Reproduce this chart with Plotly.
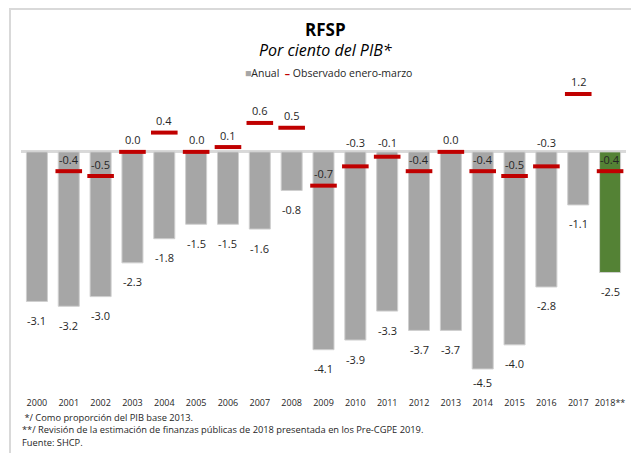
import plotly.graph_objects as go

########
# Data #
########
years = ["2000", "2001", "2002", "2003", "2004", "2005", "2006", "2007", "2008", "2009",
         "2010", "2011", "2012", "2013", "2014", "2015", "2016", "2017", "2018**"]
anual = [-3.1, -3.2, -3.0, -2.3, -1.8, -1.5, -1.5, -1.6, -0.8, -4.1,
         -3.9, -3.3, -3.7, -3.7, -4.5, -4.0, -2.8, -1.1, -2.5]
observado = [None, -0.4, -0.5, 0.0, 0.4, 0.0, 0.1, 0.6, 0.5, -0.7,
             -0.3, -0.1, -0.4, 0.0, -0.4, -0.5, -0.3, 1.2, -0.4]

# labels of the red marks that sit above the zero line
above_axis = ["2010", "2011", "2016"]

GRAY = "#a6a6a6"
GREEN = "#548235"
RED = "#c00000"
TXT = "#262626"
FONT = "Open Sans"

# The page has an 8px body margin, so the figure is 8px smaller than the window
# and positions below are written in window pixels (plot area x 21..626, y 80..396)
PX0, PX1, PY0, PY1 = 21, 626, 80, 396


def px(x):
    return (x - PX0) / (PX1 - PX0)


def py(y):
    return (PY1 - y) / (PY1 - PY0)


bar_colors = [GRAY] * (len(years) - 1) + [GREEN]

fig = go.Figure()

# ----- Annual bars -----
fig.add_trace(go.Bar(
    x=years,
    y=anual,
    marker=dict(color=bar_colors, line=dict(color="#cfcfcf", width=1)),
    name="Anual",
    hoverinfo="x+y",
))

# ----- Observed Jan-Mar marks -----
fig.add_trace(go.Scatter(
    x=years,
    y=observado,
    mode="markers",
    marker=dict(symbol="line-ew", size=19, line=dict(color=RED, width=4)),
    name="Observado enero-marzo",
))

# annotations on a category axis take the category index
annotations = []
for i, v in enumerate(anual):
    # the deepest bar keeps its label a bit closer (room above the year ticks)
    shift = -14 if v < -4.2 else -19
    annotations.append(dict(x=i, y=v, text=f"{v:.1f}", showarrow=False,
                            yshift=shift, font=dict(size=11, color=TXT, family=FONT)))
for i, (yr, v) in enumerate(zip(years, observado)):
    if v is None:
        continue
    if yr in above_axis:
        annotations.append(dict(x=i, y=0, text=f"{v:.1f}", showarrow=False,
                                yshift=9, font=dict(size=11, color=TXT, family=FONT)))
    else:
        annotations.append(dict(x=i, y=v, text=f"{v:.1f}", showarrow=False,
                                yshift=12, font=dict(size=11, color=TXT, family=FONT)))

# ----- Titles and legend -----
annotations += [
    dict(x=px(325), y=py(29), xref="paper", yref="paper", yanchor="middle", text="<b>RFSP</b>",
         showarrow=False, font=dict(size=17, color="#000000", family=FONT)),
    dict(x=px(325), y=py(50), xref="paper", yref="paper", yanchor="middle",
         text="<i>Por ciento del PIB*</i>",
         showarrow=False, font=dict(size=16, color="#000000", family=FONT)),
    dict(x=px(243), y=py(73), xref="paper", yref="paper", xanchor="left", yanchor="middle",
         text=f"<span style='color:{GRAY}'>■</span>Anual  <span style='color:{RED}'><b>–</b></span> Observado enero-marzo",
         showarrow=False, font=dict(size=10.5, color=TXT, family=FONT)),
]

# ----- Footnotes -----
notes = [" */ Como proporción del PIB base 2013.",
         "**/ Revisión de la estimación de finanzas públicas de 2018 presentada en los Pre-CGPE 2019.",
         "Fuente: SHCP."]
for i, n in enumerate(notes):
    annotations.append(dict(x=px(20), y=py(417 + 13 * i), xref="paper", yref="paper",
                            xanchor="left", yanchor="middle", text=n, showarrow=False,
                            font=dict(size=9.3, color=TXT, family=FONT)))

# ----- Frame -----
frame = dict(type="path", xref="paper", yref="paper",
             path=f"M {px(10)},{py(480)} L {px(10)},{py(9)} L {px(636)},{py(9)} L {px(636)},{py(480)}",
             line=dict(color="#d9d9d9", width=2))

fig.update_layout(
    width=631, height=445,
    margin=dict(l=PX0 - 8, r=631 - (PX1 - 8), t=PY0 - 8, b=445 - (PY1 - 8)),
    plot_bgcolor="white", paper_bgcolor="white",
    showlegend=False,
    bargap=0.34,
    annotations=annotations,
    shapes=[frame],
    font=dict(family=FONT, color=TXT),
)
fig.update_xaxes(type="category", range=[-0.5, len(years) - 0.5], showline=False, showgrid=False,
                 ticks="", tickfont=dict(size=9, color=TXT, family=FONT))
fig.update_yaxes(range=[-5.06, 1.49], showgrid=False, showticklabels=False,
                 zeroline=True, zerolinecolor="#d9d9d9", zerolinewidth=3)

fig.write_html("out.html")
